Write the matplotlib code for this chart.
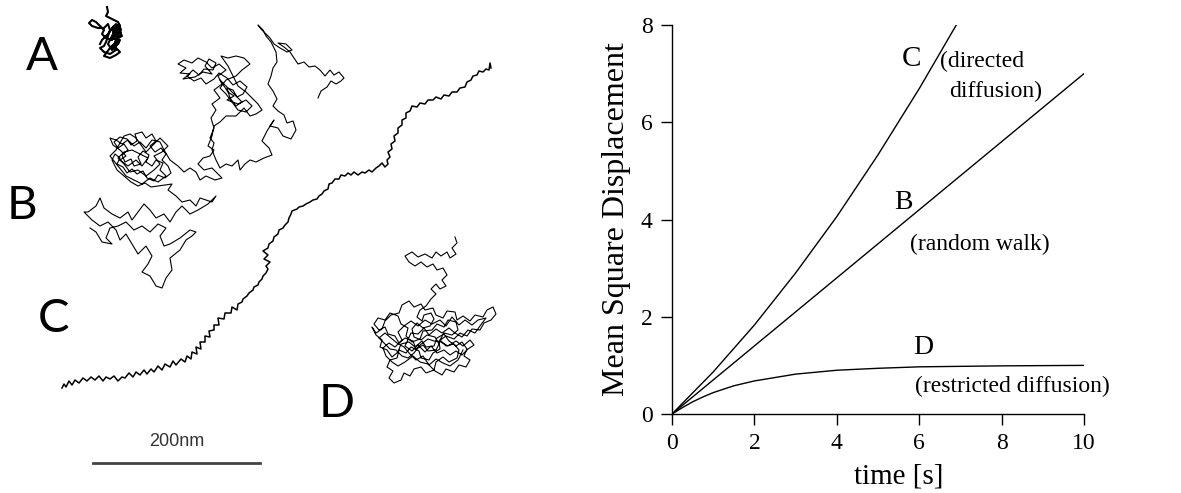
import numpy as np
import matplotlib
matplotlib.use('Agg')
import matplotlib.pyplot as plt

# === ДАННЫЕ: траектории (координаты в пикселях панели, ось y вниз) ===
traj_A = [(107, 7), (108, 12), (106, 16), (110, 18), (114, 20), (118, 22), (120, 26), (116, 28),
          (120, 32), (122, 36), (118, 38), (114, 34), (112, 28), (116, 24), (118, 30), (115, 36),
          (112, 40), (106, 38), (102, 34), (104, 30), (100, 26), (96, 22), (92, 20), (89, 23),
          (92, 26), (98, 28), (104, 28), (108, 24), (110, 30), (106, 42), (104, 46), (100, 48),
          (104, 52), (110, 54), (116, 50), (112, 46), (118, 44), (120, 40), (116, 42), (110, 48),
          (104, 56), (110, 58), (116, 55), (120, 52), (114, 46), (117, 36), (121, 30), (119, 24),
          (114, 30), (118, 34), (120, 28), (116, 32), (113, 38), (117, 40), (121, 34), (119, 28),
          (115, 30), (112, 36), (108, 44), (112, 50), (116, 46), (119, 42), (114, 26), (108, 34),
          (102, 40), (100, 44)]

traj_B = [(318, 98), (321, 91), (327, 87), (331, 81), (336, 84), (341, 81), (344, 78), (339, 72),
          (334, 75), (330, 70), (325, 76), (320, 70), (315, 66), (309, 67), (304, 62), (298, 64),
          (294, 58), (290, 52), (284, 47), (278, 43), (286, 44), (292, 50), (287, 52), (280, 48),
          (274, 44), (270, 38), (265, 33), (261, 29), (258, 25), (263, 30), (266, 36), (271, 42),
          (276, 52), (277, 62),
          (273, 68), (271, 76), (268, 84), (273, 91), (277, 99), (273, 106), (278, 111), (284, 115),
          (287, 123), (293, 121), (296, 130), (291, 139), (283, 136), (278, 128), (270, 126),
          (274, 120), (267, 131), (262, 141), (269, 148), (272, 155), (264, 158), (256, 162),
          (250, 160), (245, 164), (240, 170), (238, 160), (232, 166), (226, 164), (220, 168),
          (216, 160), (212, 150), (214, 143),
          (210, 138), (214, 128), (211, 118), (216, 110), (212, 104), (220, 98), (214, 90), (222, 84),
          (218, 76), (226, 70), (219, 64), (212, 68), (206, 62), (198, 58), (192, 63), (184, 60),
          (178, 64), (186, 68), (180, 73), (190, 74), (183, 79), (195, 77), (203, 72), (212, 74),
          (205, 66), (209, 59), (216, 63), (213, 70), (204, 69), (199, 75), (193, 70), (187, 76),
          (194, 81), (201, 78), (206, 84), (214, 79), (219, 73), (227, 78), (233, 85), (240, 81),
          (247, 87), (243, 94), (237, 97), (233, 90), (227, 88), (230, 98), (236, 106), (242, 102),
          (220, 80), (228, 92), (234, 96), (227, 100), (238, 104), (246, 100), (252, 106),
          (246, 112), (238, 110), (232, 102), (226, 94), (220, 88), (226, 80), (236, 76), (242, 70),
          (250, 64), (244, 58), (236, 56), (228, 58), (221, 56), (228, 66), (238, 86), (246, 92),
          (252, 98), (258, 104), (262, 110), (256, 114), (250, 116), (244, 108), (236, 116),
          (226, 116), (220, 122), (214, 126),
          (212, 136), (208, 146), (214, 150), (210, 156), (203, 158), (198, 164), (204, 170),
          (212, 168), (218, 174), (222, 178), (215, 180), (206, 176), (200, 180), (196, 172),
          (190, 168),
          (184, 172), (178, 166), (170, 160), (164, 150), (160, 142), (152, 140), (146, 148),
          (140, 142), (134, 146), (128, 140), (122, 144), (116, 140), (110, 138), (113, 145),
          (120, 150), (126, 156), (120, 160), (128, 166), (136, 160), (142, 166), (148, 158),
          (140, 154), (132, 150), (124, 152), (118, 158), (124, 164), (130, 172), (138, 170),
          (146, 176), (154, 170), (160, 164), (154, 156), (162, 152), (168, 146), (160, 138),
          (152, 146), (146, 152), (136, 138), (130, 134), (124, 136), (116, 150), (110, 156),
          (118, 166), (126, 176), (134, 180), (142, 184), (150, 178), (158, 182), (166, 176),
          (160, 170), (163, 163), (156, 160), (152, 166), (146, 162), (149, 155), (143, 151),
          (138, 157), (141, 164), (134, 166), (131, 159), (125, 162), (122, 155), (128, 150),
          (124, 144), (118, 148), (114, 142), (120, 137), (127, 139), (131, 145), (137, 141),
          (135, 134), (142, 132), (146, 138), (152, 134), (156, 141), (150, 146), (155, 152),
          (161, 148), (166, 154), (162, 160), (168, 166), (171, 173), (165, 178), (158, 175),
          (154, 181), (147, 178), (143, 171), (137, 174), (132, 169), (127, 173), (123, 167),
          (117, 164), (120, 158), (115, 154), (112, 160), (117, 170), (124, 176), (131, 182),
          (138, 186), (145, 183), (151, 187),
          (172, 184), (168, 190), (176, 196), (182, 202), (190, 200), (196, 206), (200, 198),
          (212, 202), (216, 196),
          (208, 204), (198, 210), (190, 214), (182, 206), (176, 212), (170, 222), (164, 214),
          (156, 218), (150, 210), (144, 204), (138, 212), (132, 220), (128, 212), (120, 218),
          (112, 214), (104, 208), (100, 198), (96, 206), (88, 212), (84, 212), (92, 220),
          (100, 226), (108, 222), (116, 230), (120, 240), (126, 234), (132, 244), (138, 254),
          (146, 246), (152, 256), (148, 264), (142, 272), (150, 276), (156, 286), (162, 288),
          (166, 278), (172, 270), (170, 258), (180, 250), (186, 240), (192, 236), (196, 232),
          (190, 230), (180, 238), (170, 244), (164, 246), (160, 236), (166, 228), (158, 224),
          (150, 232), (142, 226), (134, 230), (126, 222), (118, 226), (110, 228), (106, 238),
          (112, 244), (102, 242), (96, 232), (90, 228)]

traj_C = [(62, 388), (64, 384), (66, 387), (69, 381), (72, 385), (75, 380), (79, 383), (83, 378),
          (87, 381), (91, 377), (95, 380), (99, 376), (103, 381), (106, 377), (110, 379), (114, 376),
          (118, 381), (122, 377), (125, 378), (129, 373), (133, 377), (136, 372), (140, 375),
          (144, 370), (147, 374), (151, 369), (154, 372), (158, 366), (162, 370), (165, 364),
          (170, 367), (173, 361), (176, 365), (181, 359), (185, 362), (187, 356), (191, 359),
          (192, 352), (197, 354), (196, 347), (201, 349), (200, 342), (205, 342), (205, 336),
          (210, 337), (209, 331), (214, 330), (214, 325), (219, 325), (218, 318), (224, 319),
          (225, 313), (231, 313), (232, 307), (237, 310), (238, 304), (242, 302), (243, 299),
          (247, 296), (249, 293), (253, 290), (254, 287), (258, 285), (259, 282), (262, 279),
          (263, 276), (266, 273), (268, 269), (266, 266), (270, 262), (264, 259), (268, 255),
          (263, 251), (268, 248), (269, 244), (273, 241), (274, 237), (278, 234), (279, 230),
          (283, 228), (285, 225), (288, 222), (289, 218), (291, 214), (292, 211), (297, 209),
          (299, 207), (303, 206), (306, 204), (310, 202), (313, 200), (317, 199), (319, 196),
          (322, 194), (324, 191), (328, 189), (329, 184), (332, 183), (335, 179), (339, 179),
          (341, 175), (345, 176), (348, 173), (351, 175), (354, 172), (358, 175), (362, 172),
          (365, 173), (369, 170), (372, 172), (376, 168), (379, 166), (382, 163), (385, 167),
          (388, 164), (387, 160), (390, 157), (388, 152), (392, 149), (391, 144), (395, 141),
          (394, 136), (398, 133), (398, 128), (402, 125), (402, 120), (406, 118), (406, 113),
          (410, 111), (412, 106), (417, 107), (420, 103), (425, 104), (428, 100), (433, 100),
          (436, 97), (441, 99), (444, 95), (449, 96), (452, 92), (457, 92), (460, 88), (465, 87),
          (467, 82), (471, 80), (473, 76), (477, 75), (479, 71), (483, 72), (486, 69), (489, 70),
          (490, 63), (491, 68)]

traj_D = [(455, 237), (457, 243), (452, 248), (456, 254), (450, 258), (447, 252), (441, 256),
          (436, 252), (432, 258), (425, 254), (418, 257), (412, 252), (405, 256), (409, 262),
          (415, 266), (421, 262), (427, 267), (433, 264), (437, 270), (443, 268), (447, 275),
          (442, 280), (446, 286), (440, 289), (436, 284), (431, 289), (436, 294), (431, 299),
          (426, 306), (420, 310), (417, 317), (422, 321), (424, 315), (431, 313), (434, 319),
          (430, 326), (423, 328), (417, 323), (412, 329), (414, 337), (421, 340), (427, 335),
          (435, 337), (439, 344), (436, 350), (428, 351), (423, 345), (416, 349), (413, 341),
          (405, 338), (399, 343), (395, 336), (388, 334), (385, 327), (379, 330), (374, 324),
          (378, 318), (385, 320), (390, 313), (398, 316), (401, 324), (408, 328), (406, 336),
          (412, 342), (420, 339), (423, 331), (432, 330), (437, 324), (444, 327), (448, 320),
          (456, 322), (458, 330), (452, 335), (444, 333), (440, 340), (446, 346), (454, 344),
          (459, 350), (457, 358), (449, 362), (443, 357), (436, 362), (434, 370), (426, 373),
          (421, 367), (414, 369), (410, 376), (404, 373), (401, 380), (394, 383), (389, 378),
          (393, 371), (387, 367), (390, 360), (397, 358), (399, 350), (406, 353), (411, 347),
          (419, 351), (421, 358), (429, 360), (433, 353), (440, 349), (439, 341), (446, 336),
          (454, 339), (460, 333), (467, 336), (472, 329), (480, 330), (484, 323), (491, 320),
          (496, 314), (493, 307), (487, 310), (483, 317), (475, 315), (470, 321), (463, 316),
          (457, 320), (455, 312), (447, 311), (443, 318), (436, 315), (433, 308), (425, 310),
          (421, 304), (414, 307), (409, 301), (402, 305), (399, 313), (391, 315), (385, 321),
          (382, 329), (376, 333), (372, 327), (376, 335), (382, 340), (380, 347), (387, 350),
          (392, 357), (398, 352), (401, 344), (409, 342), (415, 347), (422, 341), (426, 347),
          (434, 346), (437, 338), (444, 334), (449, 341), (456, 346), (462, 342), (467, 349),
          (464, 356), (470, 360), (466, 367), (459, 365), (454, 372), (446, 369), (442, 375),
          (435, 371), (428, 364), (420, 362), (413, 356), (405, 362), (398, 366), (392, 362),
          (386, 356), (383, 348), (389, 343), (395, 347), (402, 340), (398, 332), (404, 326),
          (411, 321), (418, 326), (425, 320), (432, 324), (440, 320), (446, 326), (452, 317),
          (459, 325), (465, 320), (472, 325), (478, 320), (486, 318), (480, 326), (475, 333),
          (468, 330), (462, 337), (455, 333), (449, 328), (442, 333), (436, 329), (429, 335),
          (424, 328), (418, 334), (411, 333), (405, 346), (412, 351), (418, 345), (425, 352),
          (431, 346), (437, 353), (444, 350), (450, 355), (456, 351), (462, 355), (468, 349),
          (474, 345), (470, 340), (463, 346), (456, 341), (448, 346), (441, 342), (434, 341),
          (428, 339), (420, 345), (414, 353), (408, 358), (402, 356), (396, 350), (390, 349),
          (384, 343), (379, 338), (385, 333), (391, 338), (397, 343), (404, 347), (410, 354),
          (416, 360), (423, 356), (429, 365), (436, 359), (443, 363), (450, 366), (458, 360),
          (463, 350)]

letters_left = ['A', 'B', 'C', 'D']
letters_pos = [(42, 57), (22, 206), (54, 319), (337, 404)]

SCALE_NM = 200
PX_PER_NM = 167 / 200

# === ДАННЫЕ: среднеквадратичное смещение ===
t_B = [0, 2, 4, 6, 8, 10]
msd_B = [0, 1.4, 2.8, 4.2, 5.6, 7.0]

t_C = [0, 1, 2, 3, 4, 5, 6, 6.9]
msd_C = [0, 0.865, 1.83, 2.90, 4.06, 5.33, 6.69, 8.0]

t_D = [0, 0.25, 0.5, 0.75, 1, 1.5, 2, 3, 4, 5, 6, 8, 10]
msd_D = [0, 0.13, 0.25, 0.35, 0.44, 0.58, 0.68, 0.82, 0.90, 0.94, 0.97, 0.99, 1.0]

W, H = 1181, 493
fig = plt.figure(figsize=(W / 100, H / 100), dpi=100)

# --- левая панель: траектории ---
axl = fig.add_axes([0, 0, 560 / W, 1])
axl.set_xlim(0, 560)
axl.set_ylim(H, 0)
axl.axis('off')

for traj, lw in [(traj_A, 1.5), (traj_B, 0.8), (traj_C, 1.1), (traj_D, 0.8)]:
    xy = np.array(traj)
    axl.plot(xy[:, 0], xy[:, 1], color='black', lw=lw)

for lab, (x, y) in zip(letters_left, letters_pos):
    axl.text(x, y, lab, fontsize=34, family='Lato', ha='center', va='center')

x0 = 93
axl.plot([x0, x0 + SCALE_NM * PX_PER_NM], [463, 463], color='#444444', lw=2)
axl.text(x0 + SCALE_NM * PX_PER_NM / 2, 442, f'{SCALE_NM}nm', fontsize=13,
         family='Liberation Sans', ha='center', va='center', color='#333333')

# --- правая панель: MSD(t) ---
serif = 'Liberation Serif'
ax = fig.add_axes([672 / W, 1 - 414 / H, 412 / W, 389 / H])
ax.plot(t_B, msd_B, color='black', lw=1.0)
ax.plot(t_C, msd_C, color='black', lw=1.0)
ax.plot(t_D, msd_D, color='black', lw=1.0)

ax.set_xlim(0, 10)
ax.set_ylim(0, 8)
ax.set_xticks(range(0, 11, 2))
ax.set_yticks(range(0, 9, 2))
for s in ['top', 'right']:
    ax.spines[s].set_visible(False)
for s in ['left', 'bottom']:
    ax.spines[s].set_linewidth(1.0)
ax.tick_params(direction='out', length=8, width=1.0, labelsize=17, pad=6)
for lbl in ax.get_xticklabels() + ax.get_yticklabels():
    lbl.set_family(serif)

ax.set_xlabel('time [s]', fontsize=21, family=serif)
ax.set_ylabel('Mean Square Displacement', fontsize=23, family=serif)
ax.xaxis.set_label_coords(0.549, -0.126)
ax.yaxis.set_label_coords(-0.10, 0.5)

ax.text(5.82, 7.31, 'C', fontsize=21, family=serif, ha='center', va='center')
ax.text(6.5, 7.25, '(directed', fontsize=17, family=serif, ha='left', va='center')
ax.text(7.86, 6.63, 'diffusion)', fontsize=17, family=serif, ha='center', va='center')
ax.text(5.62, 4.34, 'B', fontsize=20, family=serif, ha='center', va='center')
ax.text(7.48, 3.48, '(random walk)', fontsize=17, family=serif, ha='center', va='center')
ax.text(6.1, 1.36, 'D', fontsize=20, family=serif, ha='center', va='center')
ax.text(8.26, 0.57, '(restricted diffusion)', fontsize=17, family=serif,
        ha='center', va='center', clip_on=False)

fig.savefig('out.png', dpi=100)
